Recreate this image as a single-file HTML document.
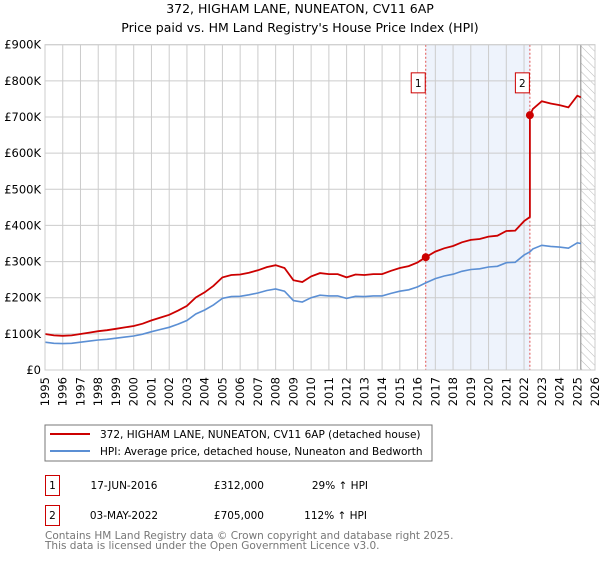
<!DOCTYPE html>
<html><head><meta charset="utf-8"><style>
body{margin:0;background:#fff;font-family:"DejaVu Sans","Liberation Sans",sans-serif;}
svg text{font-family:"DejaVu Sans","Liberation Sans",sans-serif;}
</style></head><body>
<svg id="c" width="600" height="560" xmlns="http://www.w3.org/2000/svg">
<defs><pattern id="hatch" width="6" height="6" patternUnits="userSpaceOnUse" patternTransform="rotate(-45)"><line x1="0" y1="0" x2="0" y2="6" stroke="#bbb" stroke-width="1"/></pattern></defs>
<text x="300" y="13" text-anchor="middle" font-size="12.5">372, HIGHAM LANE, NUNEATON, CV11 6AP</text>
<text x="300" y="32" text-anchor="middle" font-size="12.5">Price paid vs. HM Land Registry's House Price Index (HPI)</text>
<g id="plot"></g>
<rect x="45" y="425" width="387" height="36" fill="#fff" stroke="#777"/>
<line x1="50" y1="434" x2="90" y2="434" stroke="#cc0000" stroke-width="2"/>
<text x="100" y="438" font-size="10.5">372, HIGHAM LANE, NUNEATON, CV11 6AP (detached house)</text>
<line x1="50" y1="451" x2="90" y2="451" stroke="#5b8fd4" stroke-width="2"/>
<text x="100" y="455" font-size="10.5">HPI: Average price, detached house, Nuneaton and Bedworth</text>
<g>
<rect x="45.5" y="475.5" width="14" height="20" fill="#fff" stroke="#cc0000"/>
<text x="52.5" y="489" text-anchor="middle" font-size="10.5">1</text>
<text x="124" y="489" text-anchor="middle" font-size="10.5">17-JUN-2016</text>
<text x="264" y="489" text-anchor="end" font-size="10.5">£312,000</text>
<text x="368" y="489" text-anchor="end" font-size="10.5">29% ↑ HPI</text></g>
<g>
<rect x="45.5" y="505.5" width="14" height="20" fill="#fff" stroke="#cc0000"/>
<text x="52.5" y="519" text-anchor="middle" font-size="10.5">2</text>
<text x="124" y="519" text-anchor="middle" font-size="10.5">03-MAY-2022</text>
<text x="264" y="519" text-anchor="end" font-size="10.5">£705,000</text>
<text x="367" y="519" text-anchor="end" font-size="10.5">112% ↑ HPI</text></g>
<text x="45" y="539" font-size="10.5" fill="#777">Contains HM Land Registry data © Crown copyright and database right 2025.</text>
<text x="45" y="549" font-size="10.5" fill="#777">This data is licensed under the Open Government Licence v3.0.</text>
</svg>
<script>
const hpiYears=[1995,1995.5,1996,1996.5,1997,1997.5,1998,1998.5,1999,1999.5,2000,2000.5,2001,2001.5,2002,2002.5,2003,2003.5,2004,2004.5,2005,2005.5,2006,2006.5,2007,2007.5,2008,2008.5,2009,2009.5,2010,2010.5,2011,2011.5,2012,2012.5,2013,2013.5,2014,2014.5,2015,2015.5,2016,2016.46,2017,2017.5,2018,2018.5,2019,2019.5,2020,2020.5,2021,2021.5,2022,2022.33,2022.5,2023,2023.5,2024,2024.5,2025,2025.2];
const hpiValues=[77,74,73,74,77,80,83,85,88,91,94,99,106,112,118,127,137,155,166,180,198,203,204,208,213,220,224,218,192,188,200,207,205,205,198,204,203,205,205,212,218,222,230,241,253,260,265,273,278,280,285,287,297,298,318,327,335,345,342,340,337,352,350];
const saleYears=[2016.46,2022.33];
const salePrices=[312,705];
const saleLabels=["1","2"];
const yTicks=[0,100,200,300,400,500,600,700,800,900];
const yTickLabels=["£0","£100K","£200K","£300K","£400K","£500K","£600K","£700K","£800K","£900K"];
const xTicks=[1995,1996,1997,1998,1999,2000,2001,2002,2003,2004,2005,2006,2007,2008,2009,2010,2011,2012,2013,2014,2015,2016,2017,2018,2019,2020,2021,2022,2023,2024,2025,2026];
const X0=45,X1=595,Y0=370,Y1=44.7;
const xs=v=>X0+(v-1995)/(2026-1995)*(X1-X0);
const ys=v=>Y0-v/900*(Y0-Y1);
const NS="http://www.w3.org/2000/svg";
const g=document.getElementById('plot');
function mk(t,a){const e=document.createElementNS(NS,t);for(const k in a)e.setAttribute(k,a[k]);g.appendChild(e);return e;}
function hpiAt(t){for(let i=1;i<hpiYears.length;i++){if(t<=hpiYears[i]){const f=(t-hpiYears[i-1])/(hpiYears[i]-hpiYears[i-1]);return hpiValues[i-1]+f*(hpiValues[i]-hpiValues[i-1]);}}return hpiValues[hpiValues.length-1];}
let e=mk('rect',{x:xs(saleYears[0]),y:Y1,width:xs(saleYears[1])-xs(saleYears[0]),height:Y0-Y1,fill:'#eef3fc'});

const last=hpiYears[hpiYears.length-1];
e=mk('rect',{x:xs(last),y:Y1,width:X1-xs(last),height:Y0-Y1,fill:'url(#hatch)'});

xTicks.forEach(t=>{const l=mk('line',{x1:xs(t),x2:xs(t),y1:Y1,y2:Y0,stroke:'#ccc'});

const tx=mk('text',{x:0,y:0,'font-size':'11.5','text-anchor':'end',transform:`translate(${xs(t)+4},${Y0+7}) rotate(-90)`});tx.textContent=t;
});
yTicks.forEach((t,i)=>{const l=mk('line',{x1:X0,x2:X1,y1:ys(t),y2:ys(t),stroke:'#ccc'});

const tx=mk('text',{x:X0-4,y:ys(t)+4,'font-size':'11.5','text-anchor':'end'});tx.textContent=yTickLabels[i];
});
e=mk('line',{x1:xs(last),x2:xs(last),y1:Y1,y2:Y0,stroke:'#888'});

saleYears.forEach((s,i)=>{const l=mk('line',{x1:xs(s),x2:xs(s),y1:Y1,y2:Y0,stroke:'#e05050','stroke-dasharray':'2,2'});

const r=mk('rect',{x:xs(s)-14.5,y:ys(800)-8,width:14,height:20,fill:'#fff',stroke:'#cc0000'});

const t=mk('text',{x:xs(s)-7.5,y:ys(800)+6,'font-size':'10.5','text-anchor':'middle'});t.textContent=saleLabels[i];
});
// HPI line
let hp=hpiYears.map((y,i)=>xs(y).toFixed(1)+','+ys(hpiValues[i]).toFixed(1)).join(' ');
e=mk('polyline',{points:hp,fill:'none',stroke:'#5b8fd4','stroke-width':1.6});

// property line: indexed from sales
const r0=salePrices[0]/hpiAt(saleYears[0]), r1=salePrices[1]/hpiAt(saleYears[1]);
let pts=[];
hpiYears.forEach((y,i)=>{if(y<saleYears[1])pts.push([y,hpiValues[i]*r0]);});
pts.push([saleYears[1],hpiAt(saleYears[1])*r0]);
pts.push([saleYears[1],salePrices[1]]);
hpiYears.forEach((y,i)=>{if(y>saleYears[1])pts.push([y,hpiValues[i]*r1]);});
e=mk('polyline',{points:pts.map(p=>xs(p[0]).toFixed(1)+','+ys(p[1]).toFixed(1)).join(' '),fill:'none',stroke:'#cc0000','stroke-width':1.8});

saleYears.forEach((s,i)=>{const c=mk('circle',{cx:xs(s),cy:ys(salePrices[i]),r:4,fill:'#cc0000'});
});
e=mk('rect',{x:X0,y:Y1,width:X1-X0,height:Y0-Y1,fill:'none',stroke:'#ccc'});

</script>
</body></html>
